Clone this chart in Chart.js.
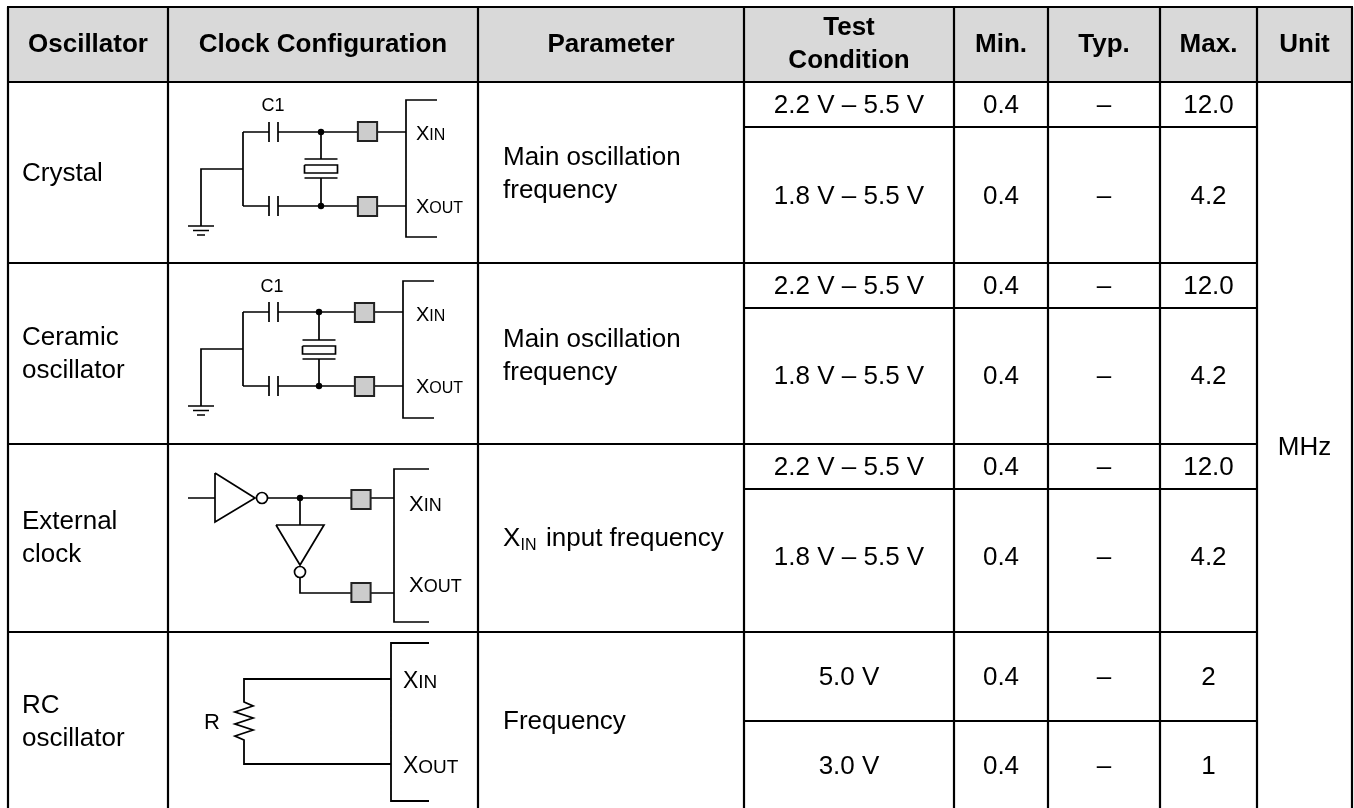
<!DOCTYPE html>
<html><head><meta charset="utf-8">
<script src="https://cdn.jsdelivr.net/npm/chart.js@4"></script>
<style>html,body{margin:0;padding:0;background:#fff}canvas{display:block}</style>
</head><body><canvas id="c" width="1354" height="808"></canvas>
<script>
// ---------- table content ----------
const headers = ["Oscillator","Clock Configuration","Parameter",["Test","Condition"],"Min.","Typ.","Max.","Unit"];
const oscillators = [["Crystal"],["Ceramic","oscillator"],["External","clock"],["RC","oscillator"]];
const parameters = [["Main oscillation","frequency"],["Main oscillation","frequency"],["XIN input frequency"],["Frequency"]];
const conditions = ["2.2 V – 5.5 V","1.8 V – 5.5 V","2.2 V – 5.5 V","1.8 V – 5.5 V","2.2 V – 5.5 V","1.8 V – 5.5 V","5.0 V","3.0 V"];
const minValues = ["0.4","0.4","0.4","0.4","0.4","0.4","0.4","0.4"];
const typValues = ["–","–","–","–","–","–","–","–"];
const maxValues = ["12.0","4.2","12.0","4.2","12.0","4.2","2","1"];
const unitLabel = "MHz";
// ---------- table layout in axis units ----------
const colEdges = [8,168,478,744,954,1048,1160,1257,1352];
const headTop = 7, headBottom = 82;
const rowEdges = [82,263,444,632,808];
const subEdges = [127,308,489,721];
const subCenters = [106,197,287,377,468,558,678,767];
const oscY = [[174],[338,371],[522,555],[706,739]];
const paramY = [[158,191],[340,373],[539],[722]];
// ---------- circuit geometry in axis units ----------
const N = [null,null];
function gnd(x,y){return [[x-13,y],[x+13,y],N,[x-8,y+4.5],[x+8,y+4.5],N,[x-4,y+9],[x+4,y+9],N];}
function osc(top,bot,mid,brk,bt,bb,dotX,crTop,left,gy){
  const g=[[left,mid],[201,mid],[201,gy],N,[left,top],[left,bot],N];
  const capW=[[left,top],[269,top],N,[269,top-10],[269,top+10],N,[278,top-10],[278,top+10],N,[278,top],[brk,top],N,
              [left,bot],[269,bot],N,[269,bot-10],[269,bot+10],N,[278,bot-10],[278,bot+10],N,[278,bot],[brk,bot],N];
  const cr=[[dotX,top],[dotX,crTop],N,[dotX-16.5,crTop],[dotX+16.5,crTop],N,
    [dotX-16.5,crTop+6],[dotX+16.5,crTop+6],[dotX+16.5,crTop+14],[dotX-16.5,crTop+14],[dotX-16.5,crTop+6],N,
    [dotX-16.5,crTop+19],[dotX+16.5,crTop+19],N,[dotX,crTop+19],[dotX,bot],N];
  const b=[[brk+31,bt],[brk,bt],[brk,bb],[brk+31,bb],N];
  return [...g,...capW,...cr,...b,...gnd(201,gy)];
}
const crystalWires = osc(132,206,169,406,100,237,321,159,243,226);
const ceramicWires = osc(312,386,349,403,281,418,319,340,243,406);
const externalWires = [[188,498],[215,498],N,[215,473],[215,522],[255,498],[215,473],N,[268,498],[394,498],N,
  [300,498],[300,525],N,[276,525],[324,525],[300,565],[276,525],N,[300,578],[300,593],[394,593],N,
  [429,469],[394,469],[394,622],[429,622],N];
const rcWires = [[429,643],[391,643],[391,801],[429,801],N,[391,679],[244,679],[244,702],[253,706],[235,712],[253,718],[235,724],[253,730],[235,736],[244,740],[244,764],[391,764]];
const dotPoints = [[321,132],[321,206],[319,312],[319,386],[300,498]];
const squarePoints = [[367.5,131.5],[367.5,206.5],[364.5,312.5],[364.5,386.5],[361,499.5],[361,592.5]];
const bubblePoints = [[262,498],[300,572]];
const pinLabels = [[416,140,213,20,16],[416,321,393,20,16],[409,511,592,22,18],[403,688,773,23,19]];

// ---------- grid ----------
const gridLines = [];
colEdges.forEach((x,i)=>{gridLines.push([x,headTop],[x,808],N);});
gridLines.push([colEdges[0]-1,headTop],[colEdges[8]+1,headTop],N,[colEdges[0]-1,headBottom],[colEdges[8]+1,headBottom],N);
rowEdges.slice(1,4).forEach(y=>gridLines.push([colEdges[0],y],[colEdges[7],y],N));
subEdges.forEach(y=>gridLines.push([colEdges[3],y],[colEdges[7],y],N));

const pts = a => a.map(p=>({x:p[0],y:p[1]}));
const FONT = '"Liberation Sans", Arial, sans-serif';
const textPlugin = {id:'tableText', afterDatasetsDraw(ch){
  const c=ch.ctx, X=ch.scales.x, Y=ch.scales.y;
  const put=(s,x,y,size,bold,align,base)=>{c.font=(bold?'bold ':'')+size+'px '+FONT;c.textAlign=align||'center';c.textBaseline=base||'middle';c.fillStyle='#000';c.fillText(s,X.getPixelForValue(x),Y.getPixelForValue(y));};
  const FS=26;
  const mid=i=>(colEdges[i]+colEdges[i+1])/2;
  headers.forEach((h,i)=>{ if(Array.isArray(h)){put(h[0],mid(i),28,FS,true);put(h[1],mid(i),61,FS,true);} else put(h,mid(i),44.5,FS,true);});
  oscillators.forEach((lines,i)=>lines.forEach((t,j)=>put(t,22,oscY[i][j],FS,false,'left')));
  parameters.forEach((lines,i)=>lines.forEach((t,j)=>{
    if(t.startsWith('XIN')){
      put('X',503,paramY[i][j],FS,false,'left');
      put('IN',520.5,paramY[i][j]+7,16,false,'left');
      put(t.slice(3).trim(),546,paramY[i][j],FS,false,'left');
    } else put(t,503,paramY[i][j],FS,false,'left');
  }));
  subCenters.forEach((y,i)=>{
    put(conditions[i],mid(3),y,FS);put(minValues[i],mid(4),y,FS);put(typValues[i],mid(5),y,FS);put(maxValues[i],mid(6),y,FS);
  });
  put(unitLabel,mid(7),448,FS);
  pinLabels.forEach(p=>{
    const [x,b1,b2,s1,s2]=p;
    const w=s1*0.667;
    put('X',x,b1,s1,false,'left','alphabetic');put('IN',x+w,b1,s2,false,'left','alphabetic');
    put('X',x,b2,s1,false,'left','alphabetic');put('OUT',x+w,b2,s2,false,'left','alphabetic');
  });
  put('C1',273,106,18);put('C1',272,287,18);
  put('R',212,723,22);
}};
const lineDs=(a,w,order)=>({type:'line',data:pts(a),borderColor:'#000',borderWidth:w,pointRadius:0,spanGaps:false,tension:0,fill:false,order,borderJoinStyle:'miter',borderCapStyle:'butt'});
new Chart(document.getElementById('c'),{
  type:'scatter',
  data:{datasets:[
    {type:'line',data:pts([[colEdges[0],headTop],[colEdges[8],headTop]]),backgroundColor:'#d9d9d9',borderWidth:0,pointRadius:0,fill:{value:headBottom},order:10},
    lineDs(gridLines,2.2,5),
    lineDs(crystalWires,1.7,4),lineDs(ceramicWires,1.7,4),lineDs(externalWires,1.7,4),lineDs(rcWires,1.8,4),
    {type:'scatter',data:pts(dotPoints),pointStyle:'circle',pointRadius:3.2,pointBackgroundColor:'#000',pointBorderWidth:0,showLine:false,order:2},
    {type:'scatter',data:pts(squarePoints),pointStyle:'rect',pointRadius:13.6,pointBackgroundColor:'#cccccc',pointBorderColor:'#222',pointBorderWidth:2,showLine:false,order:2},
    {type:'scatter',data:pts(bubblePoints),pointStyle:'circle',pointRadius:5.5,pointBackgroundColor:'#fff',pointBorderColor:'#000',pointBorderWidth:1.7,showLine:false,order:2}
  ]},
  options:{responsive:false,animation:false,layout:{padding:0,autoPadding:false},clip:false,
    plugins:{legend:{display:false},title:{display:false},tooltip:{enabled:false}},
    scales:{x:{type:'linear',min:0,max:1354,display:false},y:{type:'linear',min:0,max:808,reverse:true,display:false}}},
  plugins:[textPlugin]
});
</script></body></html>
